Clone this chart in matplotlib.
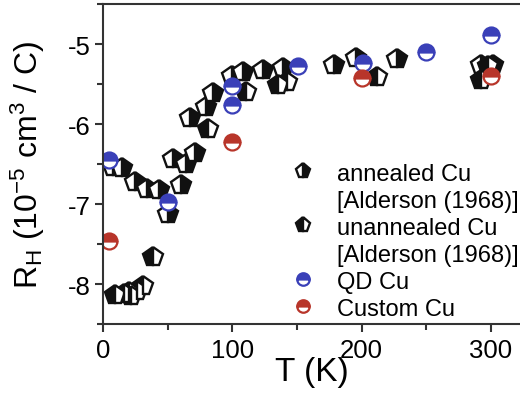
import matplotlib
matplotlib.use("Agg")
import matplotlib.pyplot as plt
from matplotlib.lines import Line2D
from matplotlib.ticker import MultipleLocator

plt.rcParams['font.family'] = ['Liberation Sans', 'DejaVu Sans']
plt.rcParams['mathtext.fontset'] = 'custom'
plt.rcParams['mathtext.rm'] = 'Liberation Sans'
plt.rcParams['mathtext.it'] = 'Liberation Sans:italic'
plt.rcParams['axes.unicode_minus'] = False

# annealed Cu [Alderson (1968)]
ann_T = [8, 15, 25, 34, 43, 50, 60, 54, 64, 71, 67, 80, 85, 100, 108, 124,
         139, 179, 196, 227, 292, 302]
ann_R = [-6.54, -6.55, -6.72, -6.81, -6.82, -7.12, -6.76, -6.44, -6.50, -6.36,
         -5.93, -5.79, -5.61, -5.40, -5.35, -5.33, -5.30, -5.26, -5.18, -5.19,
         -5.26, -5.26]
# unannealed Cu [Alderson (1968)]
unann_T = [9, 16, 20, 22, 26, 31, 39, 81, 111, 135, 142, 212, 292, 298]
unann_R = [-8.14, -8.12, -8.10, -8.15, -8.09, -8.03, -7.66, -6.06, -5.60,
           -5.51, -5.47, -5.41, -5.45, -5.28]
# QD Cu
qd_T = [5, 50, 100, 100, 151, 201, 250, 300]
qd_R = [-6.45, -6.97, -5.53, -5.76, -5.27, -5.24, -5.10, -4.89]
# Custom Cu
cu_T = [5, 100, 200, 300]
cu_R = [-7.46, -6.22, -5.42, -5.40]

blue = '#3a40b8'
red = '#b8352a'

fig = plt.figure(figsize=(5.2, 4.02), dpi=100)
ax = fig.add_axes([0.198, 0.1915, 0.802, 0.796])

pent = dict(marker='p', linestyle='none', markeredgewidth=1.7,
            markeredgecolor='#111111', markerfacecolor='#111111',
            markerfacecoloralt='white')
ax.plot(ann_T, ann_R, fillstyle='right', markersize=15, **pent)
ax.plot(unann_T, unann_R, fillstyle='left', markersize=15, **pent)

circ = dict(marker='o', linestyle='none', markeredgewidth=1.6,
            fillstyle='top', markerfacecoloralt='white')
ax.plot(qd_T, qd_R, markerfacecolor=blue, markeredgecolor=blue, markersize=11.5, **circ)
ax.plot(cu_T, cu_R, markerfacecolor=red, markeredgecolor=red, markersize=11.5, **circ)

ax.set_xlim(0, 322.5)
ax.set_ylim(-8.5, -4.5)
ax.xaxis.set_major_locator(MultipleLocator(100))
ax.xaxis.set_minor_locator(MultipleLocator(50))
ax.yaxis.set_major_locator(MultipleLocator(1))
ax.yaxis.set_minor_locator(MultipleLocator(0.5))
ax.tick_params(which='both', direction='out', top=False, right=False,
               width=1.5, color='#333333', labelsize=18.5)
ax.tick_params(axis='x', pad=4)
ax.tick_params(axis='y', pad=3)
ax.tick_params(which='major', length=6)
ax.tick_params(which='minor', length=4)
ax.spines['right'].set_visible(False)
for s in ['left', 'bottom', 'top']:
    ax.spines[s].set_linewidth(1.5)
    ax.spines[s].set_color('#333333')

ax.set_xlabel('T (K)', fontsize=24, labelpad=-4)
ax.set_ylabel(r'R$_\mathrm{H}$ (10$^{-5}$ cm$^3$ / C)', fontsize=23)
ax.yaxis.set_label_coords(-0.135, 0.5)

blank = Line2D([], [], linestyle='none', marker='')
handles = [Line2D([], [], fillstyle='right', markersize=11, **pent),
           blank,
           Line2D([], [], fillstyle='left', markersize=11, **pent),
           blank,
           Line2D([], [], markerfacecolor=blue, markeredgecolor=blue,
                  markersize=9, **circ),
           Line2D([], [], markerfacecolor=red, markeredgecolor=red,
                  markersize=9, **circ)]
labels = ['annealed Cu', '[Alderson (1968)]', 'unannealed Cu', '[Alderson (1968)]',
          'QD Cu', 'Custom Cu']
ax.legend(handles, labels, loc='upper left', bbox_to_anchor=(0.533, 0.622),
          bbox_transform=fig.transFigure, frameon=False, fontsize=17,
          handlelength=1.2, handletextpad=0.85, labelspacing=0.21, borderpad=0)

fig.savefig('out.png', dpi=100)
